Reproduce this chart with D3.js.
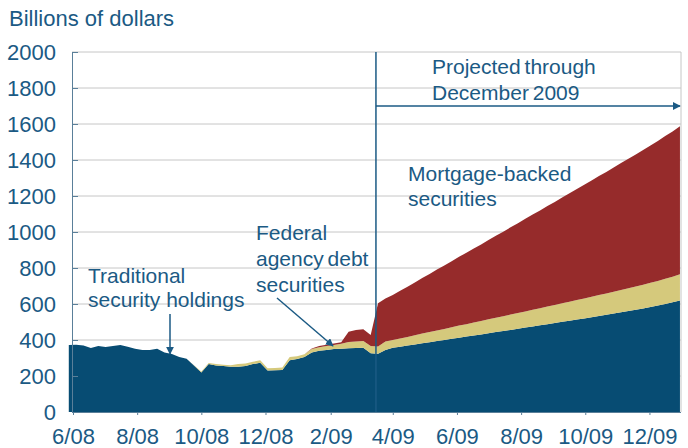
<!DOCTYPE html>
<html>
<head>
<meta charset="utf-8">
<script src="https://cdn.jsdelivr.net/npm/d3@7"></script>
<style>
  body { margin: 0; background: #fff; }
  svg { display: block; font-family: "Liberation Sans", Arial, sans-serif; }
  .note { fill: #1b5a84; font-size: 21px; }
</style>
</head>
<body>
<svg id="chart" width="688" height="448"></svg>
<script>
// weekly observations, first week ending 2008-05-28
var firstWeek = new Date(2008, 4, 28);

var treasury = [372,374,370,355,366,361,366,372,362,352,344,344,352,330,322,305,296,258,220,266,
  259,255,252,252,256,266,274,230,232,234,288,295,305,330,340,345,350,352,354,356,
  357,326,324,344,357,363,369,375,382,388,394,400,407,413,419,425,431,438,444,450,
  456,463,469,475,482,488,494,501,507,514,520,527,534,540,547,554,561,568,575,583,
  591,600,610,620];

var agency = [0,0,0,0,0,0,0,0,0,0,0,0,0,0,0,0,0,2,5,6,
  7,8,8,14,13,13,13,13,13,13,17,15,16,20,20,21,22,27,35,36,
  37,40,40,47,43,46,48,51,54,56,59,61,64,67,69,72,74,77,80,82,
  85,87,90,93,95,98,100,103,106,108,111,113,116,119,121,124,127,129,132,135,
  137,140,142,145];

var mbs = [0,0,0,0,0,0,0,0,0,0,0,0,0,0,0,0,0,0,0,0,
  0,0,0,0,0,0,0,0,0,0,0,0,0,3,6,8,9,9,57,63,
  66,62,240,240,250,265,279,294,309,323,338,353,367,382,397,411,426,441,455,470,
  485,499,514,529,543,558,573,587,602,617,631,646,661,675,690,705,719,734,749,763,
  778,793,807,822];

var yTicks = [0,200,400,600,800,1000,1200,1400,1600,1800,2000];
var xTickDates = [new Date(2008,5,1), new Date(2008,7,1), new Date(2008,9,1), new Date(2008,11,1),
  new Date(2009,1,1), new Date(2009,3,1), new Date(2009,5,1), new Date(2009,7,1),
  new Date(2009,9,1), new Date(2009,11,1)];
var projectionStart = new Date(2009, 2, 16);
var projectionEnd = new Date(2009, 11, 31);

var colors = { treasury: "#074c73", agency: "#d5c97c", mbs: "#962b2b" };
var textColor = "#1b5a84";

var rows = treasury.map(function(v, i){
    return {
        date: d3.timeDay.offset(firstWeek, 7 * i),
        treasury: v,
        agency: agency[i],
        mbs: mbs[i]
    };
});

var svg = d3.select("#chart");
var plotLeft = 72, plotRight = 681, plotTop = 52, plotBottom = 412;

var x = d3.scaleTime()
    .domain([new Date(2008, 5, 1), new Date(2009, 11, 31)])
    .range([73, plotRight]);
var y = d3.scaleLinear().domain([0, 2000]).range([plotBottom, plotTop]);

// grid
svg.append("g").selectAll("line").data(yTicks.slice(1)).enter().append("line")
    .attr("x1", plotLeft).attr("x2", plotRight)
    .attr("y1", function(d){ return y(d); })
    .attr("y2", function(d){ return y(d); })
    .attr("stroke", "#c6c6c6").attr("stroke-width", 1);
svg.append("line")
    .attr("x1", plotRight).attr("x2", plotRight).attr("y1", plotTop).attr("y2", plotBottom)
    .attr("stroke", "#c6c6c6");

// stacked areas
var stack = d3.stack().keys(["treasury", "agency", "mbs"]);
var series = stack(rows);
var area = d3.area()
    .x(function(d){ return x(d.data.date); })
    .y0(function(d){ return y(d[0]); })
    .y1(function(d){ return y(d[1]); });

svg.append("g").selectAll("path").data(series).enter().append("path")
    .attr("d", area)
    .attr("fill", function(d){ return colors[d.key]; });

// axes
var yAxis = d3.axisLeft(y).tickValues(yTicks).tickFormat(d3.format("d"))
    .tickSizeInner(-6).tickSizeOuter(0).tickPadding(16);
var gy = svg.append("g").attr("transform", "translate(" + plotLeft + ",0)").call(yAxis);
gy.selectAll("text").attr("fill", textColor).style("font-size", "22px");
gy.selectAll("line, path").attr("stroke", "#5a7f99");

var xAxis = d3.axisBottom(x).tickValues(xTickDates).tickFormat(d3.timeFormat("%-m/%y"))
    .tickSizeInner(3).tickSizeOuter(0).tickPadding(13);
var gx = svg.append("g").attr("transform", "translate(0," + plotBottom + ")").call(xAxis);
gx.select(".domain").attr("d", "M" + plotLeft + ",0.5H" + plotRight);
gx.selectAll("text").attr("fill", textColor).style("font-size", "22px");
gx.selectAll("line, path").attr("stroke", "#5a7f99");

// arrow marker
svg.append("defs").append("marker")
    .attr("id", "head").attr("viewBox", "0 0 10 10")
    .attr("refX", 9).attr("refY", 5)
    .attr("markerWidth", 8).attr("markerHeight", 8)
    .attr("markerUnits", "userSpaceOnUse")
    .attr("orient", "auto")
  .append("path").attr("d", "M0,0L10,5L0,10Z").attr("fill", textColor);

// projection divider
svg.append("line")
    .attr("x1", x(projectionStart)).attr("x2", x(projectionStart))
    .attr("y1", plotTop).attr("y2", plotBottom)
    .attr("stroke", textColor).attr("stroke-width", 1.5);
svg.append("line")
    .attr("x1", x(projectionStart)).attr("x2", x(projectionEnd) - 1)
    .attr("y1", y(1700)).attr("y2", y(1700))
    .attr("stroke", textColor).attr("stroke-width", 1.5)
    .attr("marker-end", "url(#head)");

// annotations
function note(lines, tx, ty, lh){
    var t = svg.append("text").attr("class", "note").attr("x", tx).attr("y", ty);
    lines.forEach(function(s, i){
        t.append("tspan").attr("x", tx).attr("dy", i === 0 ? 0 : lh).text(s);
    });
    return t;
}

svg.append("text").attr("x", 9).attr("y", 26)
    .attr("fill", textColor).style("font-size", "22px")
    .text("Billions of dollars");

note(["Projected through", "December 2009"], 432, 74, 26).style("word-spacing", "-2px");
note(["Mortgage-backed", "securities"], 408, 181, 24.5);
note(["Federal", "agency debt", "securities"], 256, 240, 26).style("word-spacing", "-2px");
note(["Traditional", "security holdings"], 88, 283, 24);

svg.append("line")
    .attr("x1", 277).attr("y1", 298).attr("x2", 333).attr("y2", 346)
    .attr("stroke", textColor).attr("stroke-width", 1.5)
    .attr("marker-end", "url(#head)");
svg.append("line")
    .attr("x1", 170).attr("y1", 314).attr("x2", 170).attr("y2", 354)
    .attr("stroke", textColor).attr("stroke-width", 1.5)
    .attr("marker-end", "url(#head)");
</script>
</body>
</html>
